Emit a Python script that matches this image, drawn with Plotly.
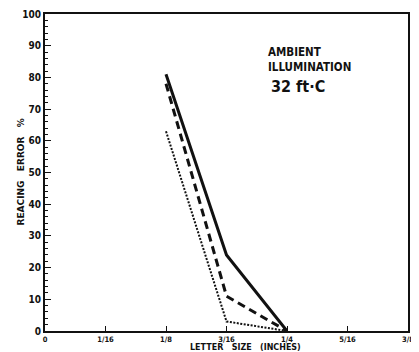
import plotly.graph_objects as go

# Data
letter_size = [0.125, 0.1875, 0.25]          # inches
err_solid = [81, 24, 0]
err_dashed = [78, 11, 0]
err_dotted = [63, 3, 0]

x_tickvals = [0, 1/16, 2/16, 3/16, 4/16, 5/16, 6/16]
x_ticktext = ["0", "1/16", "1/8", "3/16", "1/4", "5/16", "3/8"]
y_tickvals = [0, 10, 20, 30, 40, 50, 60, 70, 80, 90, 100]

FONT = "DejaVu Sans Condensed, DejaVu Sans, Arial"
WIDE = "DejaVu Sans, Arial"
INK = "#111111"

fig = go.Figure()
fig.add_trace(go.Scatter(x=letter_size, y=err_solid, mode="lines",
                         line=dict(color=INK, width=3, dash="solid")))
fig.add_trace(go.Scatter(x=letter_size, y=err_dashed, mode="lines",
                         line=dict(color=INK, width=3, dash="8px,5px")))
fig.add_trace(go.Scatter(x=letter_size, y=err_dotted, mode="lines",
                         line=dict(color=INK, width=2, dash="2px,1.5px")))

# page body has an 8px default margin; figure sized to fit the window
fig.update_layout(
    width=411, height=344,
    margin=dict(l=37, r=11, t=6, b=21, autoexpand=False),
    paper_bgcolor="white", plot_bgcolor="white",
    showlegend=False,
    font=dict(family=FONT, size=10, color=INK, weight="bold"),
)
fig.update_xaxes(
    range=[0, 0.375], tickvals=x_tickvals, ticktext=x_ticktext,
    showgrid=False, zeroline=False, automargin=False,
    showline=True, linecolor=INK, linewidth=2, mirror=True,
    ticks="inside", ticklen=5, tickwidth=1, tickcolor=INK,
    ticklabelstandoff=0,
    tickfont=dict(size=7.5, family=FONT, weight="bold"),
)
fig.update_yaxes(
    range=[0, 100], tickvals=y_tickvals,
    showgrid=False, zeroline=False, automargin=False,
    showline=True, linecolor=INK, linewidth=2, mirror=True,
    ticks="inside", ticklen=6, tickwidth=1, tickcolor=INK,
    minor=dict(dtick=2, ticks="inside", ticklen=3, tickcolor=INK, tickwidth=1),
    tickfont=dict(size=10, family=FONT, weight="bold"),
)

fig.add_annotation(xref="paper", yref="paper", x=0.551, y=0, yshift=-16.8,
                   text="LETTER   SIZE   (INCHES)", showarrow=False,
                   font=dict(size=8, family=WIDE, weight="bold"),
                   xanchor="center", yanchor="middle")
fig.add_annotation(xref="paper", yref="paper", x=0, xshift=-25, y=0.5,
                   text="REACING   ERROR   %", showarrow=False, textangle=-90,
                   font=dict(size=9, family=WIDE, weight="bold"),
                   xanchor="center", yanchor="middle")
fig.add_annotation(xref="paper", yref="paper", x=0.609, y=0.880,
                   text="AMBIENT", showarrow=False,
                   font=dict(size=11.5, family=FONT, weight="bold"),
                   xanchor="left", yanchor="middle")
fig.add_annotation(xref="paper", yref="paper", x=0.609, y=0.833,
                   text="ILLUMINATION", showarrow=False,
                   font=dict(size=11.5, family=FONT, weight="bold"),
                   xanchor="left", yanchor="middle")
fig.add_annotation(xref="paper", yref="paper", x=0.618, y=0.770,
                   text="32 ft·C", showarrow=False,
                   font=dict(size=16, family=FONT, weight="bold"),
                   xanchor="left", yanchor="middle")

fig.write_html("out.html")
